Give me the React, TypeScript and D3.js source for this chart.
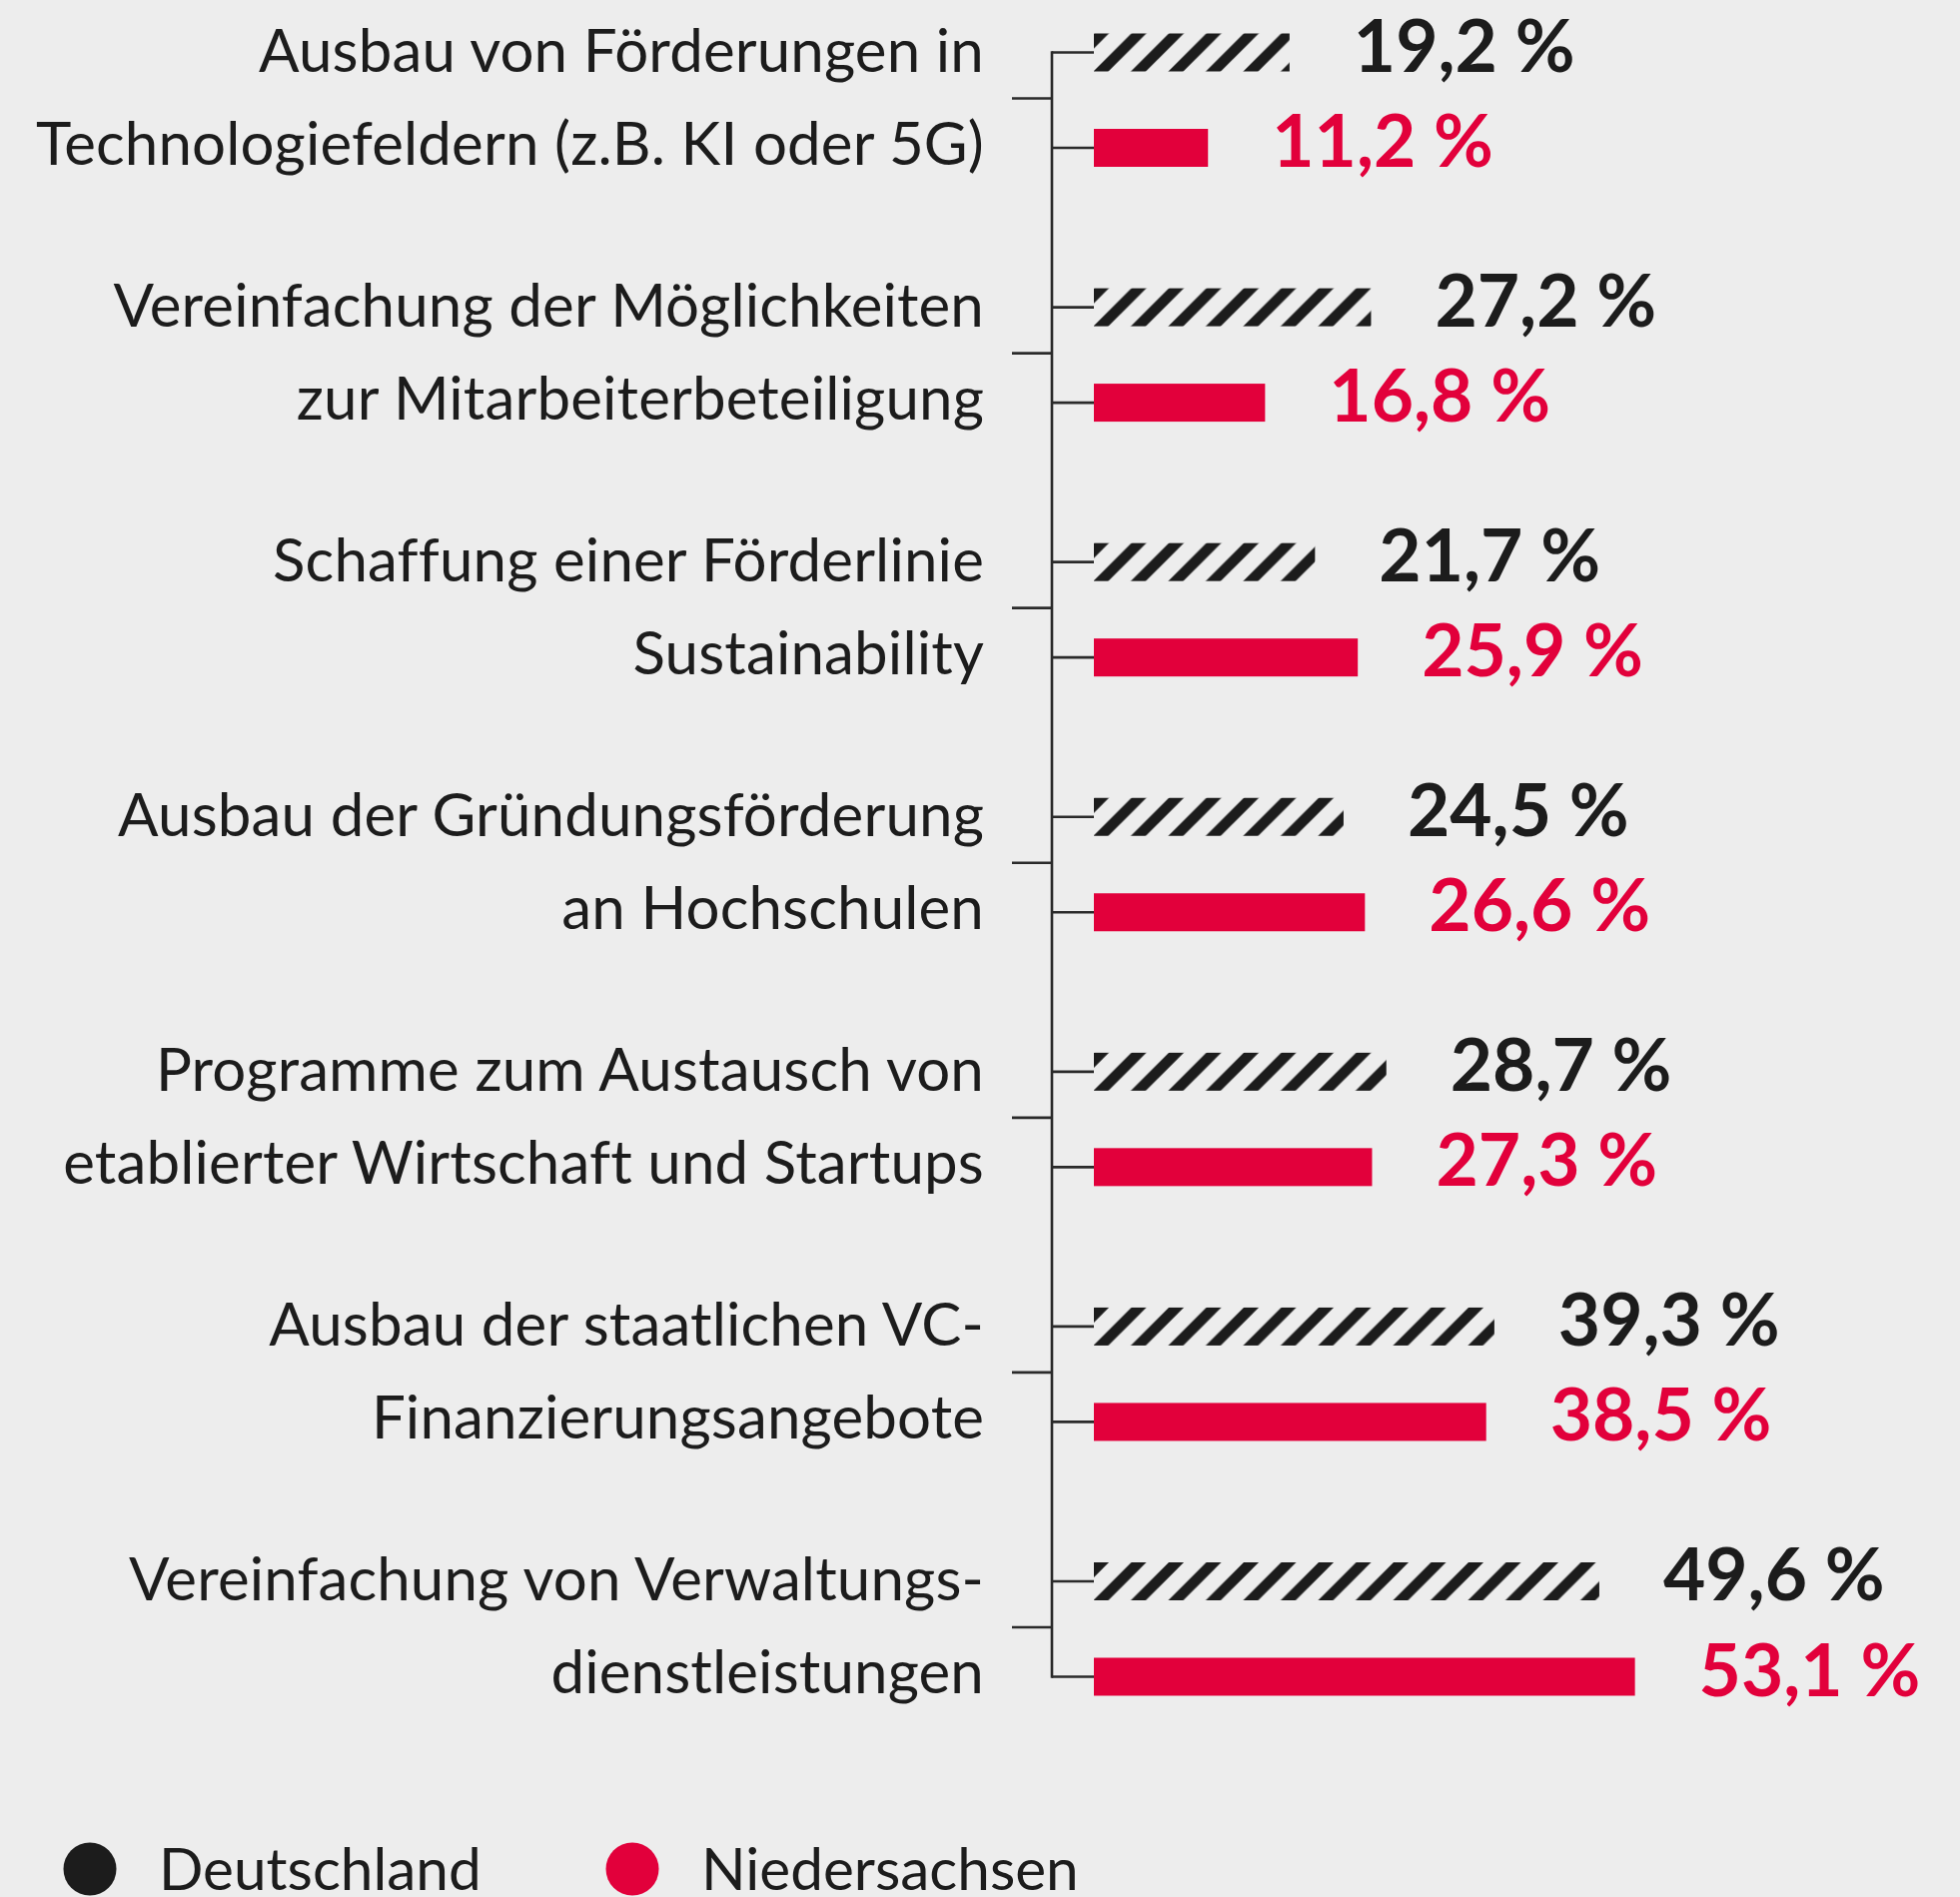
import React, { useEffect, useRef } from "react";
import * as d3 from "d3";

// labels, two lines each (as in the original layout)
const labelLine1 = [
  "Ausbau von Förderungen in",
  "Vereinfachung der Möglichkeiten",
  "Schaffung einer Förderlinie",
  "Ausbau der Gründungsförderung",
  "Programme zum Austausch von",
  "Ausbau der staatlichen VC-",
  "Vereinfachung von Verwaltungs-",
];
const labelLine2 = [
  "Technologiefeldern (z.B. KI oder 5G)",
  "zur Mitarbeiterbeteiligung",
  "Sustainability",
  "an Hochschulen",
  "etablierter Wirtschaft und Startups",
  "Finanzierungsangebote",
  "dienstleistungen",
];
const deutschland = [19.2, 27.2, 21.7, 24.5, 28.7, 39.3, 49.6];
const niedersachsen = [11.2, 16.8, 25.9, 26.6, 27.3, 38.5, 53.1];
const seriesNames = ["Deutschland", "Niedersachsen"];

const W = 1962;
const H = 1899;
const BLACK = "#1c1c1c";
const RED = "#e2003b";
const BG = "#ededed";

const App = () => {
  const ref = useRef(null);

  useEffect(() => {
    const svg = d3.select(ref.current);
    svg.selectAll("*").remove();

    const fmt = (v) => d3.format(".1f")(v).replace(".", ",") + " %";

    // scales
    const x = d3.scaleLinear().domain([0, 10]).range([1095, 1197]);
    const y = d3
      .scalePoint()
      .domain(d3.range(labelLine1.length))
      .range([52.5, 1583]);
    const inner = 95.5; // distance between the two bars in a group
    const barH = 38;
    const axisX = 1053;

    svg.append("rect").attr("width", W).attr("height", H).attr("fill", BG);

    const defs = svg.append("defs");

    // axis line + ticks
    const axis = svg.append("g").attr("stroke", "#2a2a2a").attr("stroke-width", 2.6);
    axis
      .append("line")
      .attr("x1", axisX)
      .attr("x2", axisX)
      .attr("y1", y(0) - 1.3)
      .attr("y2", y(labelLine1.length - 1) + inner + 1.3);

    labelLine1.forEach((_, i) => {
      const yy = y(i);
      axis.append("line").attr("x1", axisX).attr("x2", x(0)).attr("y1", yy).attr("y2", yy);
      axis
        .append("line")
        .attr("x1", axisX)
        .attr("x2", x(0))
        .attr("y1", yy + inner)
        .attr("y2", yy + inner);
      axis
        .append("line")
        .attr("x1", 1013)
        .attr("x2", axisX)
        .attr("y1", yy + 46)
        .attr("y2", yy + 46);
    });

    // hatched bars (Deutschland)
    deutschland.forEach((v, i) => {
      const top = y(i) - barH / 2;
      const p = defs
        .append("pattern")
        .attr("id", "hatch" + i)
        .attr("patternUnits", "userSpaceOnUse")
        .attr("x", x(0))
        .attr("y", top)
        .attr("width", 37.5)
        .attr("height", 37.5);
      p.append("polygon").attr("points", "0,0 15,0 0,15").attr("fill", BLACK);
      p.append("polygon")
        .attr("points", "37.5,0 37.5,15 15,37.5 0,37.5")
        .attr("fill", BLACK);

      svg
        .append("rect")
        .attr("x", x(0))
        .attr("y", top)
        .attr("width", x(v) - x(0))
        .attr("height", barH)
        .attr("fill", `url(#hatch${i})`);

      svg
        .append("text")
        .attr("x", x(v) + 64)
        .attr("y", top + barH)
        .attr("font-family", "Lato")
        .attr("font-weight", 700)
        .attr("font-size", 73)
        .attr("fill", BLACK)
        .text(fmt(v));
    });

    // red bars (Niedersachsen)
    niedersachsen.forEach((v, i) => {
      const top = y(i) + inner - barH / 2;
      svg
        .append("rect")
        .attr("x", x(0))
        .attr("y", top)
        .attr("width", x(v) - x(0))
        .attr("height", barH)
        .attr("fill", RED);

      svg
        .append("text")
        .attr("x", x(v) + 64)
        .attr("y", top + barH)
        .attr("font-family", "Lato")
        .attr("font-weight", 700)
        .attr("font-size", 73)
        .attr("fill", RED)
        .text(fmt(v));
    });

    // category labels
    const labels = svg
      .append("g")
      .attr("font-family", "Lato")
      .attr("font-size", 60)
      .attr("letter-spacing", 0.15)
      .attr("fill", BLACK)
      .attr("text-anchor", "end");
    labelLine1.forEach((t, i) => {
      labels.append("text").attr("x", 985).attr("y", y(i) + 19).text(t);
      labels
        .append("text")
        .attr("x", 985)
        .attr("y", y(i) + 19 + 93)
        .text(labelLine2[i]);
    });

    // legend
    const legend = svg.append("g").attr("font-family", "Lato").attr("font-size", 58.5);
    const legendX = [90, 633];
    seriesNames.forEach((name, i) => {
      legend
        .append("circle")
        .attr("cx", legendX[i])
        .attr("cy", 1871)
        .attr("r", 26.5)
        .attr("fill", i === 0 ? BLACK : RED);
      legend
        .append("text")
        .attr("x", legendX[i] + 69)
        .attr("y", 1892)
        .attr("fill", BLACK)
        .text(name);
    });
  }, []);

  return (
    <svg
      ref={ref}
      width={W}
      height={H}
      style={{ position: "absolute", left: 0, top: 0, display: "block" }}
    ></svg>
  );
};

export default App;
